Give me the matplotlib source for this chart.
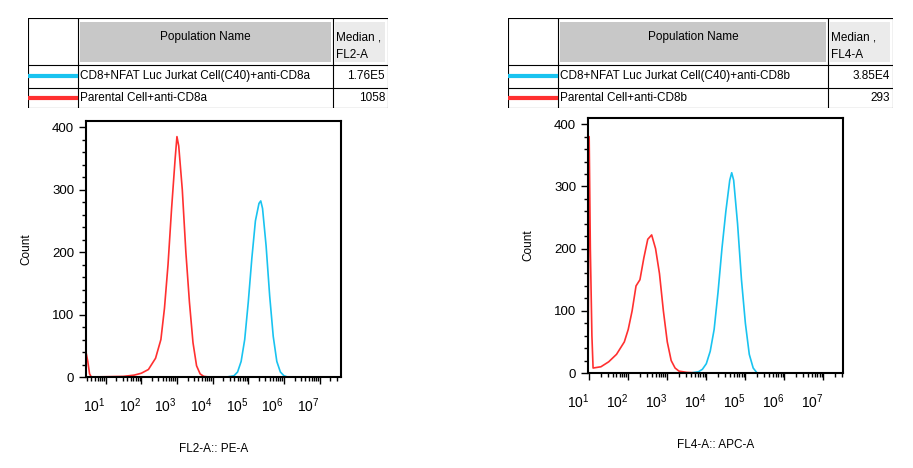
import numpy as np
import matplotlib.pyplot as plt
from matplotlib.patches import Rectangle

plt.rcParams['font.family'] = ['Liberation Sans', 'DejaVu Sans']
plt.rcParams['mathtext.fontset'] = 'custom'
plt.rcParams['mathtext.rm'] = 'Liberation Sans'
plt.rcParams['mathtext.it'] = 'Liberation Sans'

RED = '#ff3030'
BLUE = '#19c3f0'

# ---- data (x in log10 decades, y = count) ----
l_red_x = [0.45, 0.5, 0.55, 0.6, 1.5, 1.8, 2.0, 2.2, 2.4, 2.55, 2.65, 2.75, 2.85, 2.95, 3.0, 3.05, 3.15, 3.25, 3.35, 3.45, 3.55, 3.65, 3.75, 3.9, 4.0]
l_red_y = [40, 25, 5, 0, 1, 3, 6, 12, 30, 60, 110, 180, 270, 350, 385, 370, 300, 200, 120, 55, 18, 5, 1, 0, 0]
l_blue_x = [0.45, 4.4, 4.6, 4.7, 4.8, 4.9, 5.0, 5.1, 5.2, 5.3, 5.35, 5.4, 5.5, 5.6, 5.7, 5.8, 5.9, 6.0, 6.1, 7.6]
l_blue_y = [0, 0, 2, 8, 25, 60, 120, 190, 250, 278, 282, 270, 210, 130, 65, 25, 8, 2, 0, 0]

r_red_x = [0.97, 1.0, 1.03, 1.07, 1.1, 1.3, 1.5, 1.7, 1.9, 2.0, 2.1, 2.2, 2.3, 2.4, 2.5, 2.6, 2.7, 2.8, 2.9, 3.0, 3.1, 3.2, 3.3, 3.5, 3.8]
r_red_y = [0, 380, 200, 60, 8, 10, 18, 30, 50, 70, 100, 140, 150, 185, 215, 222, 200, 160, 100, 50, 20, 8, 3, 1, 0]
r_blue_x = [0.97, 3.6, 3.8, 3.9, 4.0, 4.1, 4.2, 4.3, 4.4, 4.5, 4.6, 4.65, 4.7, 4.8, 4.9, 5.0, 5.1, 5.2, 5.3, 7.5]
r_blue_y = [0, 0, 2, 6, 15, 35, 70, 130, 200, 260, 310, 322, 310, 240, 150, 80, 30, 8, 0, 0]

left_rows = ['CD8+NFAT Luc Jurkat Cell(C40)+anti-CD8a', 'Parental Cell+anti-CD8a']
left_medians = ['1.76E5', '1058']
right_rows = ['CD8+NFAT Luc Jurkat Cell(C40)+anti-CD8b', 'Parental Cell+anti-CD8b']
right_medians = ['3.85E4', '293']

decades = [1, 2, 3, 4, 5, 6, 7]

W, H = 913, 468
fig = plt.figure(figsize=(W / 100, H / 100), dpi=100)


def px_axes(x0, y0, x1, y1):
    return fig.add_axes([x0 / W, 1 - y1 / H, (x1 - x0) / W, (y1 - y0) / H])


def draw_table(x0, x1, c1, c2, header, rows, medians):
    ax = px_axes(x0, 18, x1, 108)
    ax.set_xlim(x0, x1)
    ax.set_ylim(108, 18)
    ax.axis('off')
    ax.add_patch(Rectangle((c1 + 2, 22), c2 - c1 - 4, 40, fc='#c8c8c8', ec='none'))
    ax.add_patch(Rectangle((c2 + 2, 22), x1 - c2 - 5, 40, fc='#ebebeb', ec='none'))
    for y in [18, 65, 88, 108]:
        ax.plot([x0, x1], [y, y], color='black', lw=0.8)
    for x in [x0, c1, c2, x1]:
        ax.plot([x, x], [18, 108], color='black', lw=0.8)
    ax.text((c1 + c2) / 2, 37, 'Population Name', ha='center', va='center', fontsize=8.5)
    ax.text(c2 + 3, 37, 'Median ,', ha='left', va='center', fontsize=8.5)
    ax.text(c2 + 3, 55, header, ha='left', va='center', fontsize=8.5)
    for i, (name, med, col) in enumerate(zip(rows, medians, [BLUE, RED])):
        yc = 76 + i * 22
        ax.plot([x0 + 2, c1 - 2], [yc, yc], color=col, lw=3)
        ax.text(c1 + 2, yc, name, ha='left', va='center', fontsize=8.5)
        ax.text(x1 - 3, yc, med, ha='right', va='center', fontsize=8.5)


def draw_hist(box, rx, ry, bx, by, xlim, xlabel):
    ax = px_axes(*box)
    ax.plot(rx, ry, color=RED, lw=1.2)
    ax.plot(bx, by, color=BLUE, lw=1.2)
    ax.set_xlim(*xlim)
    ax.set_ylim(0, 410)
    ax.set_yticks([0, 100, 200, 300, 400])
    ax.set_yticks(np.arange(0, 410, 20), minor=True)
    ax.set_xticks(decades)
    ax.set_xticklabels([r'$10^{\mathregular{%d}}$' % d for d in decades], ha='right', fontsize=10)
    minors = [d + np.log10(k) for d in range(0, 8) for k in range(2, 10)]
    minors = [m for m in minors if xlim[0] < m < xlim[1]]
    ax.set_xticks(minors, minor=True)
    ax.tick_params(which='both', direction='out', width=1)
    ax.tick_params(axis='y', labelsize=9.5)
    ax.tick_params(which='major', length=5)
    ax.tick_params(which='minor', length=3)
    ax.tick_params(axis='x', pad=9)
    for s in ax.spines.values():
        s.set_linewidth(1.5)
    ax.set_ylabel('Count', fontsize=8.5, labelpad=14)
    ax.set_xlabel(xlabel, fontsize=8.5, labelpad=20)


draw_table(28, 388, 78, 333, 'FL2-A', left_rows, left_medians)
draw_table(508, 893, 558, 828, 'FL4-A', right_rows, right_medians)

draw_hist((86, 121, 341, 377), l_red_x, l_red_y, l_blue_x, l_blue_y, (0.45, 7.6), 'FL2-A:: PE-A')
draw_hist((588, 118, 843, 373), r_red_x, r_red_y, r_blue_x, r_blue_y, (0.97, 7.5), 'FL4-A:: APC-A')

fig.savefig('out.png', dpi=100)
